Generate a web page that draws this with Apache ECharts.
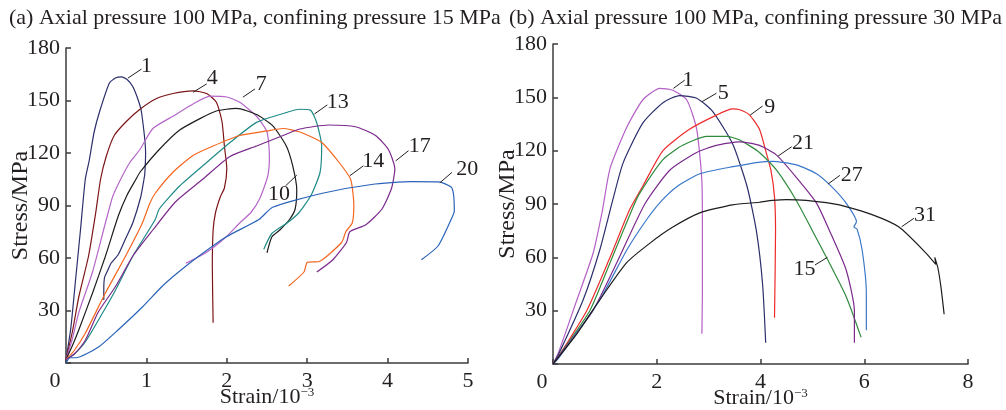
<!DOCTYPE html>
<html>
<head>
<meta charset="utf-8">
<script src="https://cdn.jsdelivr.net/npm/echarts@6/dist/echarts.min.js"></script>
<style>
html, body { margin: 0; padding: 0; background: #fff; }
#chart { width: 1006px; height: 410px; }
</style>
</head>
<body>
<div id="chart"></div>
<script>
// (a) confining pressure 15 MPa, strain (10^-3) / stress (MPa)
var a1 = [[0,2],[0.06,20],[0.12,48],[0.18,76],[0.24,105],[0.29,116],[0.35,132],[0.42,144],[0.54,160],[0.62,163],[0.69,163.5],[0.76,162],[0.83,158],[0.9,150],[0.94,143],[0.99,120],[0.98,108],[0.97,105],[0.93,95],[0.83,80],[0.74,71],[0.65,62],[0.56,57],[0.52,53],[0.48,49],[0.47,42],[0.47,36]]
var a4 = [[0,2],[0.08,18],[0.16,38],[0.28,61],[0.37,86],[0.43,105],[0.5,118],[0.6,130],[0.75,138],[0.92,145],[1.12,151],[1.33,154],[1.58,155.5],[1.75,154],[1.87,149],[1.94,138],[1.97,124],[2.0,111],[1.97,100],[1.92,95],[1.86,86],[1.83,76],[1.82,55],[1.83,23]]
var a7 = [[0,2],[0.08,14],[0.16,29],[0.33,52],[0.49,80],[0.58,95],[0.68,105],[0.8,115],[0.92,122],[1.08,134],[1.33,141],[1.58,148],[1.79,152.5],[2.0,152],[2.16,149],[2.37,141],[2.5,132],[2.53,118],[2.51,107],[2.41,94],[2.3,86],[2.16,80],[1.99,72],[1.74,63],[1.49,57]]
var a10 = [[0,2],[0.08,10],[0.16,19],[0.33,40],[0.49,61],[0.65,84],[0.76,96],[0.87,105],[0.92,109],[1.16,122],[1.41,133],[1.66,139.5],[1.87,144],[2.12,145.5],[2.37,142],[2.57,135.6],[2.74,124],[2.82,112.6],[2.87,99],[2.85,88],[2.78,82],[2.66,76],[2.56,72],[2.5,63]]
var a13 = [[0,2],[0.1,5],[0.24,12],[0.46,29],[0.62,42],[0.83,61],[1.11,82],[1.16,88],[1.41,101],[1.75,114.6],[2.04,126],[2.37,137.5],[2.66,142],[2.91,145],[3.04,144.5],[3.12,137],[3.18,124],[3.16,109],[3.05,96],[2.9,86],[2.75,80],[2.56,74],[2.46,65]]
var a14 = [[0,2],[0.1,7],[0.24,17],[0.49,40],[0.74,61],[0.95,80],[1.04,91],[1.11,97],[1.33,109],[1.58,118.6],[1.83,124],[2.16,130],[2.5,132.6],[2.7,134],[2.91,132],[3.18,126],[3.39,115],[3.54,105],[3.58,90],[3.56,80],[3.48,75],[3.43,69],[3.15,58],[3.0,57.5],[2.96,52],[2.77,44]]
var a17 = [[0,2],[0.1,5],[0.24,13],[0.4,29],[0.62,44],[0.83,61],[1.08,76],[1.36,92],[1.7,105],[2.04,118],[2.37,124],[2.7,130],[2.91,133.7],[3.27,136],[3.6,135],[3.85,130],[4.01,122],[4.09,111],[4.05,100],[3.93,88],[3.73,79],[3.53,75],[3.49,69],[3.32,59],[3.12,52]]
var a20 = [[0,0],[0.05,3],[0.12,3],[0.4,9],[0.65,19],[0.95,32],[1.2,44],[1.4,52],[1.65,61],[1.99,72],[2.4,82],[2.57,89],[3.19,97],[3.8,102],[4.3,103.6],[4.63,103.5],[4.8,100],[4.83,87],[4.8,83],[4.63,67],[4.42,59]]

// (b) confining pressure 30 MPa
var b1 = [[0,0],[0.1,6],[0.46,36],[0.77,62],[0.95,86],[1.1,110],[1.42,133],[1.73,148.5],[2.06,155],[2.31,154],[2.58,148.5],[2.77,132],[2.87,103],[2.88,75],[2.88,40],[2.87,17]]
var b5 = [[0,0],[0.1,5],[0.58,36],[0.9,64],[1.15,92],[1.35,113],[1.73,135.5],[2.12,147],[2.44,151],[2.77,149.5],[3.08,142],[3.46,124],[3.74,100],[3.92,75],[4.04,45],[4.1,12]]
var b9 = [[0,0],[0.1,4],[0.65,30],[1.1,60],[1.48,87],[1.73,100],[2.12,120],[2.63,132],[3.15,140],[3.46,143.5],[3.6,143],[3.79,140],[3.98,132],[4.1,120],[4.2,109],[4.27,94],[4.29,75],[4.27,26]]
var b15 = [[0,0],[0.1,4],[0.71,30],[1.1,57],[1.54,88],[1.67,96],[2.12,115],[2.5,123],[2.96,128],[3.35,128],[3.6,126],[3.98,119],[4.31,109],[4.69,92],[5.0,75],[5.27,60],[5.65,38],[5.94,15]]
var b21 = [[0,0],[0.1,4],[0.77,30],[1.23,57],[1.77,90],[2.25,109],[2.77,119],[3.15,123],[3.6,125],[3.98,123],[4.31,117.5],[4.69,105],[5.08,90.5],[5.33,75],[5.65,53],[5.81,30],[5.81,12]]
var b27 = [[0,0],[0.1,3],[0.9,36],[1.42,64],[1.8,81],[2.1,92],[2.4,100],[2.83,107],[3.47,111],[3.99,113.6],[4.23,114],[4.69,112],[5.08,107],[5.38,99.5],[5.65,90.5],[5.85,80],[5.8,77],[5.86,76],[5.96,64],[6.04,40],[6.04,19]]
var b31 = [[0,0],[0.46,17],[0.9,36],[1.42,57],[1.87,68],[2.31,77],[2.83,85],[3.46,89.5],[3.98,91],[4.23,92],[4.5,92.5],[4.88,92],[5.52,89.5],[6.15,84],[6.67,77],[7.19,62.4],[7.38,56],[7.36,60],[7.42,54],[7.48,43],[7.54,28]]

// curve numbers, leader lines [x1,y1,x2,y2] and number positions
var namesA = ['1', '4', '7', '10', '13', '14', '17', '20']
var leadersA = [[0.77,162.8,0.94,168],[1.58,154.7,1.75,159.5],[2.2,151.9,2.35,156.6],[2.87,107.3,2.73,101.2],[3.09,142.3,3.25,147.5],[3.53,107,3.7,112.7],[4.1,115.5,4.26,121.3],[4.65,103,4.8,108.9]]
var labelAtA = [[1.0,169.8],[1.82,162.9],[2.43,159.5],[2.65,96.7],[3.38,149.2],[3.82,115.4],[4.4,124],[4.99,110.8]]

var namesB = ['1', '5', '9', '15', '21', '27', '31']
var leadersB = [[2.32,155,2.54,159.7],[2.87,147.5,3.15,152.3],[3.8,140,4.04,145.1],[5.29,60,5.05,55.7],[4.34,117,4.6,122.2],[5.3,101.2,5.53,106.1],[6.72,77.2,6.96,82]]
var labelAtB = [[2.6,159.7],[3.28,152.4],[4.18,144.5],[4.85,53.1],[4.82,124.3],[5.76,106.3],[7.17,83.8]]

var yTicks = [0, 30, 60, 90, 120, 150, 180]

var colorsA = ['#2b2f6b', '#7d1518', '#b567c9', '#1c1c1c', '#1f8b88', '#f4661f', '#7b2a8c', '#2b63b9']
var colorsB = ['#b55fc7', '#2b2f6b', '#ee2a2a', '#2f8a3c', '#7b2a8c', '#3b78c9', '#1c1c1c']

var FONT = '"Liberation Serif", "DejaVu Serif", serif'
var TXT = '#231f20'

var myChart = echarts.init(document.getElementById('chart'))

function makeCurve(name, data, color, idx, leader, labelAt) {
  return {
    name: name,
    type: 'line',
    xAxisIndex: idx,
    yAxisIndex: idx,
    data: data,
    showSymbol: false,
    symbol: 'none',
    smooth: 0.2,
    lineStyle: { color: color, width: 1.2 },
    itemStyle: { color: color },
    markLine: {
      silent: true,
      symbol: ['none', 'none'],
      lineStyle: { color: TXT, width: 1, type: 'solid' },
      label: { show: false },
      data: [[{ coord: [leader[0], leader[1]] }, { coord: [leader[2], leader[3]] }]]
    },
    markPoint: {
      silent: true,
      symbol: 'rect',
      symbolSize: 1,
      itemStyle: { color: 'rgba(0,0,0,0)' },
      label: { show: true, position: 'inside', formatter: name, color: TXT, fontSize: 22, fontFamily: FONT },
      data: [{ coord: labelAt }]
    }
  }
}

function xAxisCfg(idx, max, interval) {
  return {
    type: 'value',
    gridIndex: idx,
    min: 0,
    max: max,
    interval: interval,
    name: 'Strain/10{s|−3}',
    nameLocation: 'middle',
    nameGap: 23,
    nameMoveOverlap: false,
    nameTextStyle: {
      color: TXT, fontSize: 22, fontFamily: FONT,
      rich: { s: { fontSize: 13, fontFamily: FONT, color: TXT, padding: [0, 0, 10, 0] } }
    },
    axisLine: { show: true, onZero: false, lineStyle: { color: '#3c3c3c', width: 1.5 } },
    axisTick: { show: true, inside: true, length: 5, lineStyle: { color: '#3c3c3c', width: 1.5 } },
    splitLine: { show: false },
    axisLabel: {
      margin: 7,
      color: TXT, fontSize: 22, fontFamily: FONT,
      formatter: function (v) { return v === 0 ? '{z|0}' : String(v) },
      rich: { z: { padding: [0, 22, 0, 0], color: TXT, fontSize: 22, fontFamily: FONT } }
    }
  }
}

function yAxisCfg(idx) {
  return {
    type: 'value',
    gridIndex: idx,
    min: yTicks[0],
    max: yTicks[yTicks.length - 1],
    interval: yTicks[1] - yTicks[0],
    name: 'Stress/MPa',
    nameLocation: 'middle',
    nameGap: 33,
    nameMoveOverlap: false,
    nameTextStyle: { color: TXT, fontSize: 24, fontFamily: FONT },
    axisLine: { show: true, lineStyle: { color: '#3c3c3c', width: 1.5 } },
    axisTick: { show: true, inside: true, length: 5, lineStyle: { color: '#3c3c3c', width: 1.5 } },
    splitLine: { show: false },
    axisLabel: {
      margin: 6,
      color: TXT, fontSize: 22, fontFamily: FONT,
      formatter: function (v) { return v === 0 ? '' : String(v) }
    }
  }
}

var series = []
var listA = [a1, a4, a7, a10, a13, a14, a17, a20]
listA.forEach(function (d, i) {
  series.push(makeCurve(namesA[i], d, colorsA[i], 0, leadersA[i], labelAtA[i]))
})
var listB = [b1, b5, b9, b15, b21, b27, b31]
listB.forEach(function (d, i) {
  series.push(makeCurve(namesB[i], d, colorsB[i], 1, leadersB[i], labelAtB[i]))
})

var option = {
  animation: false,
  backgroundColor: '#fff',
  title: [
    {
      text: '(a) Axial pressure 100 MPa, confining pressure 15 MPa',
      left: 9, top: 7, padding: 0,
      textStyle: { color: TXT, fontSize: 22, fontWeight: 'normal', fontFamily: FONT }
    },
    {
      text: '(b) Axial pressure 100 MPa, confining pressure 30 MPa',
      left: 509, top: 7, padding: 0,
      textStyle: { color: TXT, fontSize: 22, fontWeight: 'normal', fontFamily: FONT }
    }
  ],
  grid: [
    { left: 66, top: 48, width: 402, height: 315, containLabel: false, outerBoundsMode: 'none' },
    { left: 553, top: 44, width: 415, height: 320, containLabel: false, outerBoundsMode: 'none' }
  ],
  xAxis: [xAxisCfg(0, 5, 1), xAxisCfg(1, 8, 2)],
  yAxis: [yAxisCfg(0), yAxisCfg(1)],
  series: series
}

myChart.setOption(option)
</script>
</body>
</html>
